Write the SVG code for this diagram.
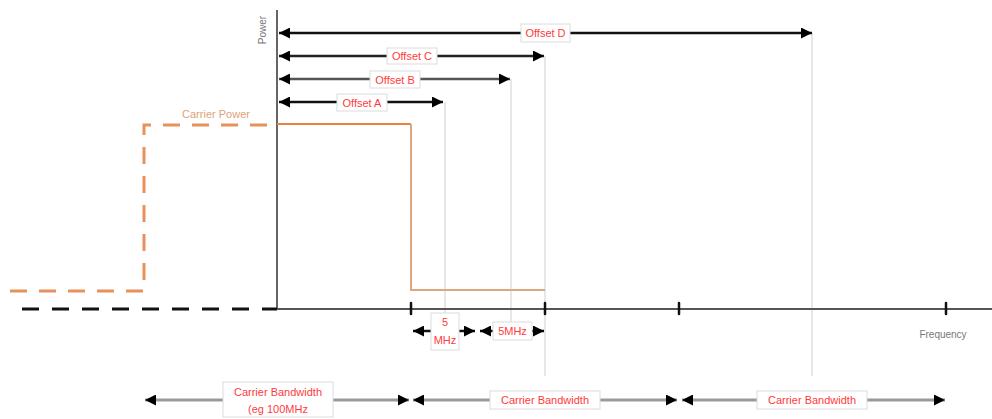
<svg xmlns="http://www.w3.org/2000/svg" width="992" height="419" viewBox="0 0 992 419">
<style>
.lbl{font-family:"Liberation Sans",Arial,sans-serif;font-size:11px;fill:#ff3b3b;text-anchor:middle;dominant-baseline:central}
.box{fill:#fff;stroke:#dcdcdc;stroke-width:1}
.grey{font-family:"Liberation Sans",Arial,sans-serif;font-size:10px;fill:#777}
.guide{stroke:#cfcfcf;stroke-width:1;fill:none}
.tick{stroke:#111;stroke-width:2.5;stroke-linecap:round}
.off{stroke-width:2.5;fill:none}
.bw{stroke:#9a9a9a;stroke-width:3;fill:none}
</style>
<defs>
<marker id="ah" viewBox="0 0 10 10" refX="10" refY="5" markerWidth="12" markerHeight="11" markerUnits="userSpaceOnUse" orient="auto-start-reverse">
<path d="M0,0 L10,5 L0,10 Z" fill="#000"/>
</marker>
</defs>
<g id="guides">
<line class="guide" x1="445" y1="102" x2="445" y2="330"/>
<line class="guide" x1="511" y1="79" x2="511" y2="330"/>
<line class="guide" x1="545" y1="56" x2="545" y2="376"/>
<line class="guide" x1="812" y1="33" x2="812" y2="376"/>
</g>
<g id="axes">
<line x1="277" y1="10" x2="277" y2="309" stroke="#666" stroke-width="2"/>
<line x1="277" y1="309" x2="992" y2="309" stroke="#555" stroke-width="2"/>
<line x1="22" y1="309" x2="277" y2="309" stroke="#111" stroke-width="3" stroke-dasharray="17 13"/>
<line class="tick" x1="411" y1="303" x2="411" y2="314"/>
<line class="tick" x1="545" y1="303" x2="545" y2="314"/>
<line class="tick" x1="679" y1="303" x2="679" y2="314"/>
<line class="tick" x1="946" y1="303" x2="946" y2="314"/>
<text class="grey" x="0" y="0" transform="translate(266,30) rotate(-90)" text-anchor="middle">Power</text>
<text class="grey" x="943" y="338" text-anchor="middle">Frequency</text>
</g>
<g id="carrier-power">
<path d="M10,291 H144 V125 H277" fill="none" stroke="#e8915a" stroke-width="3" stroke-dasharray="17 12"/>
<path d="M277,124 H411" fill="none" stroke="#e8823e" stroke-width="2"/>
<path d="M411,124 V290 H545" fill="none" stroke="#dba882" stroke-width="2"/>
<text x="216" y="114" font-family="'Liberation Sans',Arial,sans-serif" font-size="11" fill="#e0a278" text-anchor="middle" dominant-baseline="central">Carrier Power</text>
</g>
<g id="connectors">
<line class="off" x1="279" y1="33" x2="812" y2="33" stroke="#111" marker-start="url(#ah)" marker-end="url(#ah)"/>
<line class="off" x1="279" y1="56" x2="544" y2="56" stroke="#222" marker-start="url(#ah)" marker-end="url(#ah)"/>
<line class="off" x1="279" y1="79" x2="510" y2="79" stroke="#555" marker-start="url(#ah)" marker-end="url(#ah)"/>
<line class="off" x1="279" y1="102" x2="443" y2="102" stroke="#111" marker-start="url(#ah)" marker-end="url(#ah)"/>
<line class="off" x1="413" y1="331" x2="475" y2="331" stroke="#111" marker-start="url(#ah)" marker-end="url(#ah)"/>
<line class="off" x1="480" y1="331" x2="544" y2="331" stroke="#111" marker-start="url(#ah)" marker-end="url(#ah)"/>
<line class="bw" x1="145" y1="400" x2="409" y2="400" marker-start="url(#ah)" marker-end="url(#ah)"/>
<line class="bw" x1="413" y1="400" x2="677" y2="400" marker-start="url(#ah)" marker-end="url(#ah)"/>
<line class="bw" x1="682" y1="400" x2="945" y2="400" marker-start="url(#ah)" marker-end="url(#ah)"/>
</g>
<g id="label-offset-d"><rect class="box" x="521" y="24" width="49" height="18"/><text class="lbl" x="545.5" y="33">Offset D</text></g>
<g id="label-offset-c"><rect class="box" x="387" y="48" width="50" height="16"/><text class="lbl" x="412" y="56">Offset C</text></g>
<g id="label-offset-b"><rect class="box" x="370" y="71" width="50" height="17"/><text class="lbl" x="395" y="79.5">Offset B</text></g>
<g id="label-offset-a"><rect class="box" x="337" y="94" width="50" height="17"/><text class="lbl" x="362" y="102.5">Offset A</text></g>
<g id="label-5mhz-a"><rect class="box" x="431" y="313" width="28" height="37"/><text class="lbl" x="445" y="322">5</text><text class="lbl" x="445" y="340">MHz</text></g>
<g id="label-5mhz-b"><rect class="box" x="493" y="322" width="39" height="18"/><text class="lbl" x="512.5" y="331">5MHz</text></g>
<g id="label-bw-1"><rect class="box" x="223" y="382" width="110" height="35"/><text class="lbl" x="278" y="392">Carrier Bandwidth</text><text class="lbl" x="278" y="409">(eg 100MHz</text></g>
<g id="label-bw-2"><rect class="box" x="490" y="391" width="110" height="18"/><text class="lbl" x="545" y="400">Carrier Bandwidth</text></g>
<g id="label-bw-3"><rect class="box" x="757" y="391" width="110" height="18"/><text class="lbl" x="812" y="400">Carrier Bandwidth</text></g>
</svg>
